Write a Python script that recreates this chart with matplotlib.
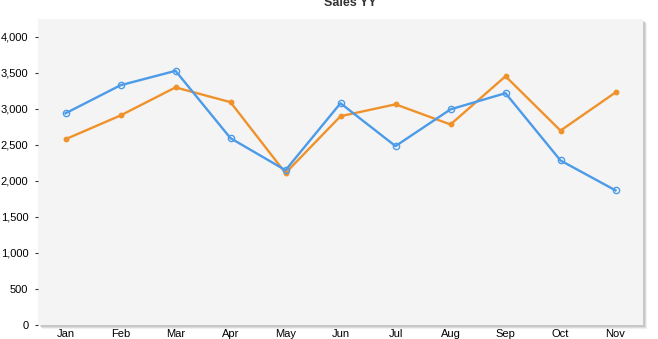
import matplotlib.pyplot as plt
import matplotlib.patches as mpatches
from matplotlib.ticker import FuncFormatter

# data
months = ["Jan", "Feb", "Mar", "Apr", "May", "Jun", "Jul", "Aug", "Sep", "Oct", "Nov"]
series_blue = [2940, 3330, 3530, 2595, 2150, 3080, 2485, 2995, 3220, 2285, 1870]
series_orange = [2580, 2910, 3300, 3095, 2110, 2900, 3065, 2785, 3455, 2700, 3230]
yticks = [0, 500, 1000, 1500, 2000, 2500, 3000, 3500, 4000]

plt.rcParams['font.family'] = ['Liberation Sans', 'DejaVu Sans']

fig = plt.figure(figsize=(6.58, 3.39), dpi=100)
fig.patch.set_facecolor("white")

left, bottom, width, height = 38/658, 14/339, 605/658, 306/339

# drop shadow behind plot area
for off, alpha in [(4, 0.12), (3, 0.18), (2, 0.25)]:
    sh = mpatches.Rectangle((left + off/658, bottom - off/339), width, height,
                            transform=fig.transFigure, facecolor="#888888",
                            alpha=alpha, edgecolor="none", zorder=-5)
    fig.patches.append(sh)

ax = fig.add_axes([left, bottom, width, height])
ax.set_facecolor("#f4f4f4")
for s in ax.spines.values():
    s.set_visible(False)

x = list(range(len(months)))
ax.plot(x, series_orange, color="#f0922b", lw=1.7, marker="o", ms=3.2,
        mfc="#f0922b", mec="#f0922b", zorder=3)
ax.plot(x, series_blue, color="#4c9be8", lw=1.7, marker="o", ms=4.5,
        mfc="none", mec="#4c9be8", mew=1, zorder=4)

ax.set_xlim(-0.5, 10.5)
ax.set_ylim(0, 4250)
ax.set_yticks(yticks)
ax.yaxis.set_major_formatter(FuncFormatter(lambda v, p: f"{int(v):,}"))
ax.set_xticks(x)
ax.set_xticklabels(months)
ax.tick_params(axis="y", length=2, width=0.8, color="#333333", pad=5, labelsize=8)
ax.tick_params(axis="x", length=0, pad=3, labelsize=8)

fig.text(350/658, 1 - 6/339, "Sales YY", ha="center", va="baseline",
         fontsize=9, fontweight="bold", color="#333333")

fig.savefig("out.png", dpi=100)
